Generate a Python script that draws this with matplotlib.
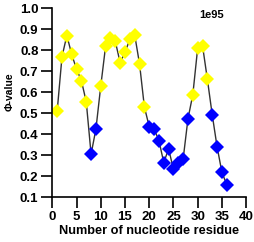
import matplotlib
matplotlib.use("Agg")
from matplotlib import pyplot as plt

# residue number and phi-value
residue = list(range(1, 37))
phi = [0.51, 0.77, 0.87, 0.78, 0.71, 0.655, 0.555, 0.305, 0.425, 0.63,
       0.82, 0.857, 0.842, 0.741, 0.79, 0.852, 0.873, 0.735, 0.53, 0.436,
       0.425, 0.37, 0.265, 0.33, 0.233, 0.262, 0.282, 0.474, 0.589, 0.81,
       0.822, 0.662, 0.493, 0.341, 0.219, 0.16]
# 'y' = high phi (yellow), 'b' = low phi (blue)
group = ['y'] * 7 + ['b'] * 2 + ['y'] * 10 + ['b'] * 9 + ['y'] * 4 + ['b'] * 4
colors = {'y': '#ffff00', 'b': '#0000ff'}

xticks = [0, 5, 10, 15, 20, 25, 30, 35, 40]
yticks = [0.1, 0.2, 0.3, 0.4, 0.5, 0.6, 0.7, 0.8, 0.9, 1.0]

plt.rcParams['font.family'] = ['Liberation Sans', 'DejaVu Sans']

fig = plt.figure(figsize=(2.54, 2.42), dpi=100)
ax = fig.add_axes([0.206, 0.185, 0.763, 0.781])

ax.plot(residue, phi, color='#333333', linewidth=1.0, zorder=1)
for g in ('y', 'b'):
    xs = [r for r, k in zip(residue, group) if k == g]
    ys = [p for p, k in zip(phi, group) if k == g]
    ax.plot(xs, ys, linestyle='none', marker='D', markersize=6.8,
            color=colors[g], markeredgewidth=0, zorder=2)

ax.set_xlim(0, 40)
ax.set_ylim(0.1, 1.0)
ax.set_xticks(xticks)
ax.set_yticks(yticks)
ax.set_xticklabels([str(t) for t in xticks], fontweight='bold', fontsize=9.5)
ax.set_yticklabels([f'{t:.1f}' for t in yticks], fontweight='bold', fontsize=9.5)
ax.tick_params(direction='out', length=8, width=1.2, pad=2, colors='black')

for side in ('top', 'right'):
    ax.spines[side].set_visible(False)
for side in ('left', 'bottom'):
    ax.spines[side].set_linewidth(1.2)

ax.set_xlabel('Number of nucleotide residue', fontweight='bold', fontsize=9.2, labelpad=1)
ax.set_ylabel('Φ-value', fontweight='bold', fontsize=7.5)
ax.yaxis.set_label_coords(-0.195, 0.56)
fig.text(212 / 254, 1 - 15 / 242, '1e95', fontweight='bold', fontsize=8,
         ha='center', va='center')

fig.savefig('out.png', dpi=100)
